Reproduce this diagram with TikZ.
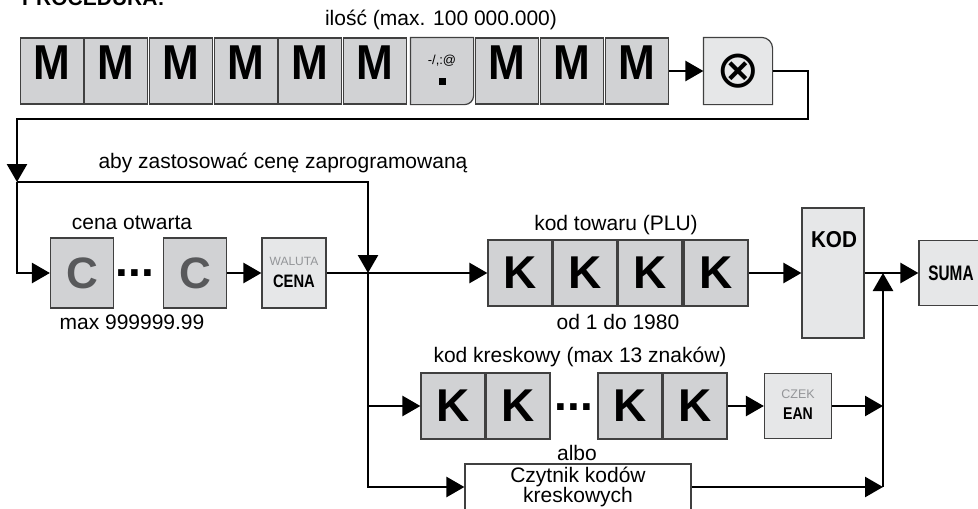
\documentclass[tikz,border=0pt]{standalone}
\usepackage{graphicx}
\usepackage{fontspec}
\setmainfont{Liberation Sans}
\newfontfamily\symfont{DejaVu Sans}
\usetikzlibrary{arrows.meta,backgrounds}
\definecolor{keygray}{HTML}{D1D2D4}
\definecolor{keylight}{HTML}{E6E7E8}
\definecolor{keyline}{HTML}{404040}
\definecolor{letgray}{HTML}{58595B}
\definecolor{capgray}{HTML}{939598}
\newcommand{\narrowtxt}[2]{\scalebox{#1}[1]{#2}}
\tikzset{
  keybox/.style={draw=keyline,line width=1.2pt,fill=keygray,inner sep=0pt,minimum width=63pt,minimum height=66pt},
  mkey/.style={keybox,font=\fontsize{49}{49}\selectfont\bfseries,text height=35pt,text depth=19pt},
  kkey/.style={keybox,minimum width=64pt,font=\fontsize{46}{46}\selectfont\bfseries},
  ckey/.style={keybox,minimum height=70pt,text=letgray,font=\fontsize{44}{44}\selectfont\bfseries},
  fkey/.style={keybox,fill=keylight},
  dotrow/.style={anchor=base,inner sep=0pt,text height=7pt,text depth=0pt,font=\fontsize{46}{46}\selectfont\bfseries},
  lbl/.style={inner sep=0pt,font=\fontsize{21}{20}\selectfont},
  conn/.style={line width=2.6pt,->},
}
\begin{document}
\begin{tikzpicture}[x=1pt,y=-1pt,>={Triangle[length=18pt,width=20pt]}]
\useasboundingbox (0,0) rectangle (978,509);
\node[anchor=base west,inner sep=0pt,font=\fontsize{21}{21}\selectfont\bfseries] (title) at (22,5) {PROCEDURA:};
\node[lbl] (qty) at (441,20) {ilość (max. 100 000.000)};
\node[mkey] (m1) at (52,71) {\narrowtxt{0.9}{M}};
\node[mkey] (m2) at (116,71) {\narrowtxt{0.9}{M}};
\node[mkey] (m3) at (181,71) {\narrowtxt{0.9}{M}};
\node[mkey] (m4) at (246,71) {\narrowtxt{0.9}{M}};
\node[mkey] (m5) at (310,71) {\narrowtxt{0.9}{M}};
\node[mkey] (m6) at (375,71) {\narrowtxt{0.9}{M}};
\node[keybox,draw=none,fill=none,minimum width=62pt] (kdot) at (442,71) {};
\node[inner sep=0pt,font=\fontsize{13}{13}\selectfont] (kdotsym) at (442,61) {-/,:@};
\node[fill=black,inner sep=0pt,minimum size=7pt] (kdotpt) at (442,81) {};
\node[mkey] (m7) at (507,71) {\narrowtxt{0.9}{M}};
\node[mkey] (m8) at (572,71) {\narrowtxt{0.9}{M}};
\node[mkey] (m9) at (637,71) {\narrowtxt{0.9}{M}};
\node[keybox,draw=none,fill=none,minimum width=68pt,font=\symfont\fontsize{52}{52}\selectfont] (kx) at (738,71) {⊗};
\begin{scope}[on background layer]
\filldraw[draw=keyline,line width=1.2pt,fill=keygray] (kdot.east) [rounded corners=9pt] -- (kdot.south east) -- (kdot.south) [sharp corners] -- (kdot.south west) -- (kdot.north west) -- (kdot.north east) -- cycle;
\filldraw[draw=keyline,line width=1.2pt,fill=keylight] (kx.south) -- (kx.south west) -- (kx.north west) -- (kx.north) [rounded corners=11pt] -- (kx.north east) -- (kx.east) [sharp corners] -- (kx.south east) -- cycle;
\end{scope}
\coordinate (r2) at (808,119);
\coordinate (j1) at (17,182);
\coordinate (j2) at (368,273);
\coordinate (j3) at (883,273);
\coordinate (j4) at (883,487);
\coordinate (j5) at (883,406);
\node[lbl] (preset) at (283,163) {aby zastosować cenę zaprogramowaną};
\node[lbl] (open) at (132,223) {cena otwarta};
\node[ckey] (c1) at (82,273) {C};
\node[dotrow] (cdots) at (135,276) {...};
\node[ckey] (c2) at (195,273) {C};
\node[lbl] (maxc) at (132,322) {max 999999.99};
\node[fkey,minimum width=64pt,minimum height=70pt] (cena) at (294,273) {};
\node[inner sep=0pt,text=capgray,font=\fontsize{12}{12}\selectfont] (walut) at (294,261) {WALUTA};
\node[inner sep=0pt,font=\fontsize{18}{18}\selectfont\bfseries] (cenatxt) at (294,281) {\narrowtxt{0.82}{CENA}};
\node[lbl] (plu) at (616,225) {kod towaru (PLU)};
\node[kkey] (k1) at (520,273) {K};
\node[kkey] (k2) at (585,273) {K};
\node[kkey] (k3) at (650,273) {K};
\node[kkey] (k4) at (716,273) {K};
\node[lbl] (plurange) at (618,322) {od 1 do 1980};
\node[fkey,minimum width=62pt,minimum height=130pt] (kod) at (833,273) {};
\node[inner sep=0pt,font=\fontsize{23}{23}\selectfont\bfseries] (kodtxt) at (834,240) {\narrowtxt{0.9}{KOD}};
\node[fkey,minimum width=64pt,minimum height=65pt,font=\fontsize{21}{21}\selectfont\bfseries] (suma) at (951,273) {\narrowtxt{0.73}{SUMA}};
\node[lbl] (ean13) at (580,357) {kod kreskowy (max 13 znaków)};
\node[kkey] (b1) at (453,406) {K};
\node[kkey] (b2) at (518,406) {K};
\node[dotrow] (bdots) at (574,410) {...};
\node[kkey] (b3) at (630,406) {K};
\node[kkey] (b4) at (695,406) {K};
\node[fkey,minimum width=67pt,minimum height=65pt] (ean) at (798,406) {};
\node[inner sep=0pt,text=capgray,font=\fontsize{12.5}{12.5}\selectfont] (czek) at (798,394) {CZEK};
\node[inner sep=0pt,font=\fontsize{17}{17}\selectfont\bfseries] (eantxt) at (798,414) {\narrowtxt{0.83}{EAN}};
\node[lbl] (albo) at (577,453) {albo};
\node[draw=keyline,line width=1.2pt,fill=white,minimum width=226pt,minimum height=46pt,align=center,lbl] (cz) at (578,487) {Czytnik kodów\\kreskowych};
\draw[conn] (m9) -- (kx);
\draw[conn] (kx.east) -| (r2) -| (j1);
\draw[conn] (j1) |- (c1);
\draw[conn] (j1) -| (j2);
\draw[conn] (c2) -- (cena);
\draw[conn] (cena) -- (k1);
\draw[conn] (k4) -- (kod);
\draw[conn] (kod) -- (suma);
\draw[conn] (j2) |- (b1);
\draw[conn] (j2) |- (cz);
\draw[conn] (b4) -- (ean);
\draw[conn] (ean) -- (j5);
\draw[conn] (cz) -- (j4);
\draw[conn] (j4) -- (j3);
\end{tikzpicture}
\end{document}
